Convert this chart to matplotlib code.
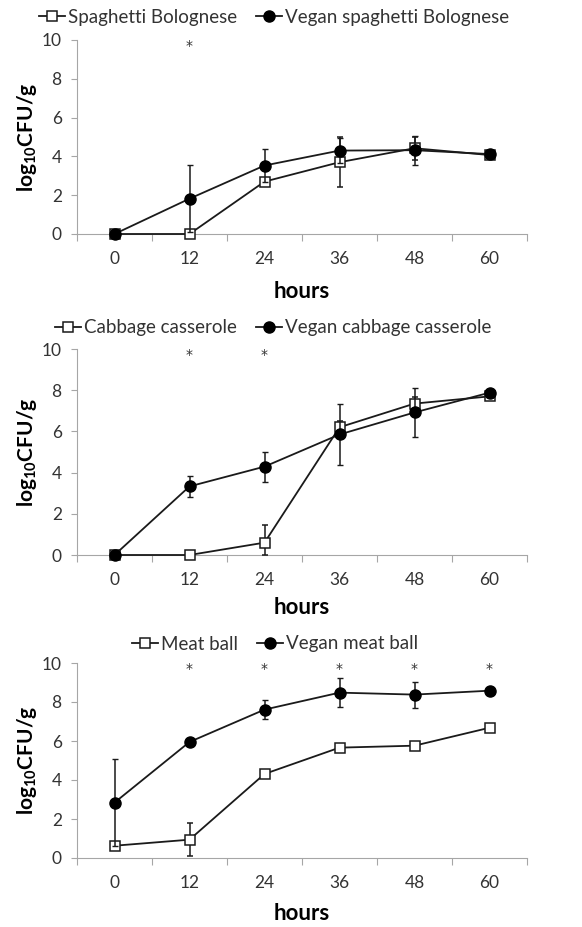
import numpy as np
import matplotlib
matplotlib.use("Agg")
import matplotlib.pyplot as plt
from matplotlib.lines import Line2D

plt.rcParams["font.family"] = ["Lato", "DejaVu Sans"]
plt.rcParams["mathtext.fontset"] = "custom"
plt.rcParams["mathtext.rm"] = "Lato"
plt.rcParams["mathtext.bf"] = "Lato:bold"

# data
hours = ["0", "12", "24", "36", "48", "60"]

spag = [0, 0, 2.70, 3.70, 4.42, 4.07]
spag_err = [0, 0, 0.15, 1.28, 0.6, 0]
vspag = [0, 1.82, 3.53, 4.30, 4.32, 4.12]
vspag_err = [0, 1.74, 0.85, 0.66, 0.75, 0]
stars1 = [1]

cab = [0, 0, 0.60, 6.20, 7.35, 7.70]
cab_err = [0, 0, 0.86, 0.3, 0.3, 0]
vcab = [0, 3.33, 4.29, 5.85, 6.92, 7.88]
vcab_err = [0, 0.51, 0.73, 1.5, 1.2, 0]
stars2 = [1, 2]

mb = [0.63, 0.94, 4.31, 5.66, 5.76, 6.68]
mb_err = [0, 0.85, 0.1, 0.05, 0.2, 0.1]
vmb = [2.84, 5.95, 7.61, 8.48, 8.38, 8.58]
vmb_err = [2.22, 0.1, 0.47, 0.76, 0.67, 0.1]
stars3 = [1, 2, 3, 4, 5]

panels = [
    ("Spaghetti Bolognese", spag, spag_err, "Vegan spaghetti Bolognese", vspag, vspag_err, stars1),
    ("Cabbage casserole", cab, cab_err, "Vegan cabbage casserole", vcab, vcab_err, stars2),
    ("Meat ball", mb, mb_err, "Vegan meat ball", vmb, vmb_err, stars3),
]

# axes boxes in pixels: (y of 0, y of 10), legend centre, xlabel centre
W, H = 582, 927
boxes = [(234, 40, (274, 17), 291), (555, 349, (273, 328), 607), (858, 663, (275, 644), 914)]
left, right = 77, 527

fig = plt.figure(figsize=(W / 100, H / 100), dpi=100)
line_c = "#1a1a1a"
axis_c = "#a6a6a6"
text_c = "#333333"

x = np.arange(len(hours))
for (name, a, a_err, vname, b, b_err, stars), (y0, y10, leg, xl) in zip(panels, boxes):
    ax = fig.add_axes([left / W, 1 - y0 / H, (right - left) / W, (y0 - y10) / H])
    a = np.array(a); b = np.array(b)
    a_err = np.array(a_err); b_err = np.array(b_err)
    ax.errorbar(x, a, yerr=[np.minimum(a_err, a), a_err], color=line_c, lw=1.3,
                marker="s", ms=7, mfc="white", mec=line_c, mew=1.1,
                ecolor=line_c, elinewidth=1.1, capsize=2.5, clip_on=False, zorder=3)
    ax.errorbar(x, b, yerr=[np.minimum(b_err, b), b_err], color=line_c, lw=1.3,
                marker="o", ms=8, mfc="black", mec="black",
                ecolor=line_c, elinewidth=1.1, capsize=2.5, clip_on=False, zorder=4)
    for s in stars:
        ax.text(x[s], 9.7, "*", ha="center", va="center", fontsize=10,
                color=text_c, family="DejaVu Sans")

    ax.set_xlim(-0.5, len(hours) - 0.5)
    ax.set_ylim(0, 10)
    ax.set_yticks(range(0, 11, 2))
    ax.set_xticks(np.arange(-0.5, len(hours), 1))
    ax.set_xticklabels([])
    ax.set_xticks(x, minor=True)
    ax.set_xticklabels(hours, minor=True)
    ax.tick_params(axis="x", which="major", length=5, color=axis_c, direction="out")
    ax.tick_params(axis="x", which="minor", length=0, pad=12, labelsize=12.5, labelcolor=text_c)
    ax.tick_params(axis="y", length=4, color=axis_c, pad=7, labelsize=12.5, labelcolor=text_c)
    for sp in ["top", "right"]:
        ax.spines[sp].set_visible(False)
    for sp in ["left", "bottom"]:
        ax.spines[sp].set_color(axis_c)
    ax.set_ylabel(r"$\mathbf{log_{10}CFU/g}$", fontsize=15, color="black", va="center")
    ax.yaxis.set_label_coords((27 - left) / (right - left), 0.5)
    ax.set_xlabel("hours", fontsize=16, fontweight="bold", color="black", va="center")
    ax.xaxis.set_label_coords(0.5, (y0 - xl) / (y0 - y10))

    ha = Line2D([], [], color=line_c, lw=1.3, marker="s", ms=7, mfc="white", mec=line_c, mew=1.1)
    hb = Line2D([], [], color=line_c, lw=1.3, marker="o", ms=8, mfc="black", mec="black")
    fig.legend([ha, hb], [name, vname], loc="center", ncol=2, frameon=False,
               bbox_to_anchor=(leg[0] / W, 1 - leg[1] / H), fontsize=13.5,
               handlelength=1.4, handletextpad=0.15, columnspacing=1.0,
               borderpad=0, labelcolor=text_c)

fig.savefig("out.png", dpi=100)
